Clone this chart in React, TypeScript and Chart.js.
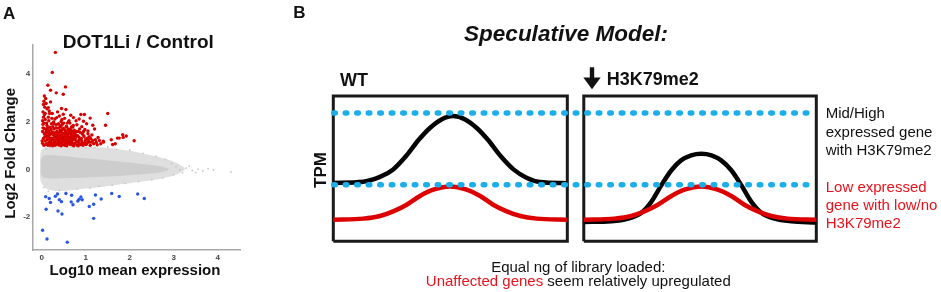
import React, { useEffect, useRef } from 'react';
import { Chart, registerables } from 'chart.js';

Chart.register(...registerables);

const FONT = '"Liberation Sans", Arial, Helvetica, sans-serif';
const RED_TEXT = '#e8121c';

// ---------------- Panel A : MA plot ----------------
const PANEL_A_LETTER = 'A';
const PANEL_A_TITLE = 'DOT1Li / Control';
const X_TITLE = 'Log10 mean expression';
const Y_TITLE = 'Log2 Fold Change';
const X_TICKS = [0, 1, 2, 3, 4];
const Y_TICKS = [-2, 0, 2, 4];

// significantly up-regulated genes [log10 mean, log2 FC]
const UP_GENES: [number, number][] = [
  [0.31, 4.92], [0.24, 4.08], [0.14, 3.54], [0.2, 3.33], [0.33, 3.22], [0.54, 3.47], [0.49, 3.16],
  [0.06, 3.09], [0.09, 2.98], [0.05, 2.87], [0.1, 2.77], [0.04, 2.73], [0.2, 2.84], [0.07, 2.62], [0.12, 2.55],
  [0.45, 2.56], [0.55, 2.52], [0.17, 2.46], [0.24, 2.35], [0.03, 2.42], [0.36, 2.42], [0.49, 2.32], [0.72, 2.18],
  [0.89, 2.31], [0.97, 2.31], [1.1, 2.16], [1.5, 2.35], [0.95, 2.03], [0.15, 2.2], [0.3, 2.12], [0.4, 2.25],
  [0.62, 2.05], [0.08, 2.1], [0.52, 2.15], [0.78, 2.05], [0.27, 2.0], [0.44, 2.02], [0.85, 2.12], [0.66, 2.28],
  [1.16, 1.86], [1.45, 1.86], [1.05, 1.62], [0.05, 1.95], [0.12, 1.85], [0.18, 1.78], [0.22, 1.92], [0.28, 1.7],
  [0.33, 1.88], [0.38, 1.75], [0.42, 1.66], [0.47, 1.9], [0.5, 1.72], [0.56, 1.82], [0.6, 1.68], [0.64, 1.95],
  [0.7, 1.78], [0.74, 1.65], [0.8, 1.88], [0.86, 1.7], [0.91, 1.8], [0.98, 1.68], [1.02, 1.92], [0.1, 1.66],
  [0.03, 1.75], [0.16, 1.62], [0.25, 1.8], [0.35, 1.62], [0.54, 1.6], [0.68, 1.62], [1.2, 1.7], [0.44, 1.8],
  [0.58, 1.95],
  [0.02, 1.1], [0.04, 1.3], [0.06, 1.5], [0.08, 1.2], [0.09, 1.05], [0.11, 1.4], [0.13, 1.25], [0.14, 1.55],
  [0.15, 1.12], [0.17, 1.35], [0.19, 1.02], [0.2, 1.48], [0.21, 1.2], [0.23, 1.58], [0.24, 1.08], [0.26, 1.32],
  [0.27, 1.45], [0.29, 1.15], [0.3, 1.02], [0.31, 1.55], [0.32, 1.25], [0.34, 1.38], [0.35, 1.1], [0.37, 1.5],
  [0.38, 1.2], [0.39, 1.03], [0.41, 1.33], [0.42, 1.58], [0.43, 1.12], [0.45, 1.42], [0.46, 1.22], [0.47, 1.05],
  [0.48, 1.52], [0.5, 1.3], [0.51, 1.15], [0.53, 1.45], [0.55, 1.02], [0.56, 1.25], [0.57, 1.55], [0.59, 1.1],
  [0.6, 1.38], [0.62, 1.2], [0.63, 1.5], [0.65, 1.05], [0.66, 1.3], [0.68, 1.15], [0.69, 1.45], [0.71, 1.02],
  [0.72, 1.25], [0.74, 1.52], [0.75, 1.1], [0.77, 1.35], [0.79, 1.18], [0.8, 1.03], [0.82, 1.42], [0.84, 1.22],
  [0.86, 1.08], [0.88, 1.55], [0.9, 1.3], [0.92, 1.12], [0.94, 1.02], [0.96, 1.4], [0.99, 1.2], [1.01, 1.05],
  [1.04, 1.32], [1.07, 1.15], [1.1, 1.02], [1.12, 1.15], [1.14, 1.45], [1.18, 1.08], [1.22, 1.25], [1.26, 1.04],
  [1.31, 1.22], [1.34, 1.08], [1.4, 1.19], [1.4, 1.15], [1.58, 1.25], [1.61, 1.05], [1.67, 1.08], [1.72, 1.32],
  [1.76, 1.32], [1.84, 1.46], [1.85, 1.35], [1.92, 1.41], [2.1, 1.21], [1.05, 1.5], [0.12, 1.08], [0.16, 1.45],
  [0.22, 1.32], [0.28, 1.22], [0.33, 1.05], [0.36, 1.3], [0.4, 1.45], [0.44, 1.0], [0.49, 1.18], [0.52, 1.4],
  [0.58, 1.28], [0.61, 1.08], [0.64, 1.22], [0.67, 1.55], [0.7, 1.35], [0.73, 1.0], [0.76, 1.25], [0.81, 1.15],
  [0.85, 1.35], [0.89, 1.05], [0.93, 1.48], [0.97, 1.1], [1.0, 1.28], [1.08, 1.38], [1.16, 1.22], [0.05, 1.02],
  [0.07, 1.38], [0.1, 1.58], [0.18, 1.15], [0.25, 1.0], [0.19, 1.28], [0.27, 1.1], [0.34, 1.48], [0.39, 1.15],
  [0.46, 1.35], [0.54, 1.1], [0.57, 1.0], [0.63, 1.35], [0.69, 1.08], [0.78, 1.45], [0.83, 1.0], [0.91, 1.2],
  [1.03, 1.12], [1.11, 1.3], [1.24, 1.14], [1.28, 1.35],
  [0.01, 1.2], [0.02, 1.6], [0.03, 1.9], [0.04, 2.2], [0.06, 1.72], [0.08, 2.35], [0.11, 1.95], [0.13, 1.72],
  [0.14, 1.02], [0.16, 2.05], [0.18, 1.52], [0.21, 1.68], [0.23, 2.15], [0.26, 1.55], [0.28, 1.92], [0.3, 1.38],
  [0.32, 1.75], [0.34, 2.18], [0.36, 1.55], [0.38, 1.92], [0.4, 1.12], [0.42, 1.85], [0.44, 1.6], [0.46, 2.1],
  [0.48, 1.28], [0.5, 1.95], [0.52, 1.02], [0.53, 1.65], [0.55, 1.38], [0.57, 1.78], [0.59, 1.45], [0.61, 2.0],
  [0.63, 1.12], [0.65, 1.7], [0.67, 1.4], [0.7, 1.55], [0.72, 1.85], [0.74, 1.32], [0.76, 1.6], [0.15, 2.6],
  [0.18, 2.35], [0.06, 2.3], [0.02, 2.05], [0.09, 1.48], [0.12, 1.32], [0.2, 1.1], [0.25, 1.25], [0.29, 1.5],
  [0.31, 1.15], [0.37, 1.4], [0.41, 1.25], [0.43, 1.45], [0.47, 1.68], [0.51, 1.5], [0.54, 1.2], [0.6, 1.15],
  [0.62, 1.62], [0.66, 1.18], [0.68, 1.8], [0.73, 1.42], [0.79, 1.6], [0.83, 1.6], [0.87, 1.25], [0.95, 1.6],
  [1.06, 1.22],
];

// significantly down-regulated genes
const DOWN_GENES: [number, number][] = [
  [0.09, -1.14], [0.17, -1.22], [0.2, -1.38], [0.31, -1.12], [0.36, -1.03], [0.4, -1.27], [0.45, -1.35],
  [0.55, -1.01], [0.68, -1.08], [0.67, -1.36], [0.71, -1.48], [0.82, -1.32], [0.85, -1.25], [0.89, -1.15],
  [0.92, -1.27], [1.08, -1.55], [1.18, -1.46], [1.22, -1.07], [1.35, -1.24], [1.59, -1.01], [1.76, -1.13],
  [2.18, -1.03], [2.33, -1.22], [0.1, -1.67], [0.37, -1.74], [0.46, -1.87], [1.18, -2.05], [0.02, -2.55],
  [0.12, -2.92], [0.58, -3.05],
];

// non-significant genes: outline of the light scatter halo and the dense core
const HALO_X = [-0.04, -0.01, 0.1, 0.3, 0.6, 1.0, 1.4, 1.8, 2.2, 2.6, 2.9, 3.1, 3.25];
const HALO_TOP = [0.35, 0.8, 0.95, 0.98, 0.98, 0.96, 0.92, 0.84, 0.72, 0.55, 0.4, 0.24, 0.06];
const HALO_BOTTOM = [-0.25, -0.55, -0.8, -0.9, -0.88, -0.8, -0.72, -0.62, -0.52, -0.42, -0.3, -0.18, -0.02];
const CORE_X = [-0.02, 0.02, 0.1, 0.3, 0.6, 1.0, 1.5, 2.0, 2.4, 2.7, 2.88];
const CORE_TOP = [0.3, 0.55, 0.6, 0.6, 0.55, 0.47, 0.38, 0.29, 0.21, 0.13, 0.04];
const CORE_BOTTOM = [-0.1, -0.3, -0.36, -0.38, -0.36, -0.33, -0.29, -0.24, -0.18, -0.11, -0.02];
const SPARSE_GENES: [number, number][] = [
  [3.14, -0.02], [3.28, 0.06], [3.42, -0.04], [3.55, 0.02], [3.66, -0.06], [3.78, 0.04], [3.9, -0.02],
  [4.3, -0.1], [3.05, 0.12], [3.2, -0.14], [3.35, 0.15], [3.5, -0.12],
  [0.2, 0.95], [0.45, 0.98], [0.7, 0.96], [0.9, 0.97], [1.2, 0.92], [1.5, 0.95], [1.7, 0.85], [2.0, 0.82],
  [2.3, 0.68], [2.6, 0.55], [2.8, 0.42], [0.15, -0.92], [0.4, -0.88], [0.55, -0.95], [0.8, -0.82],
  [1.1, -0.78], [1.3, -0.7], [1.6, -0.66], [1.9, -0.58], [2.2, -0.5], [2.5, -0.42], [2.75, -0.35],
  [0.05, -0.75], [0.1, 0.85], [0.35, -0.98], [1.0, 0.9], [2.95, 0.25], [3.0, -0.22],
];

// ---------------- Panel B : speculative model ----------------
const PANEL_B_LETTER = 'B';
const PANEL_B_TITLE = 'Speculative Model:';
const CONDITION_WT = 'WT';
const CONDITION_KD = 'H3K79me2';
const TPM_LABEL = 'TPM';
const HIGH_GENE_LABEL = ['Mid/High', 'expressed gene', 'with H3K79me2'];
const LOW_GENE_LABEL = ['Low expressed', 'gene with low/no', 'H3K79me2'];
const CAPTION_LINE1 = 'Equal ng of library loaded:';
const CAPTION_RED = 'Unaffected genes';
const CAPTION_BLACK = ' seem relatively upregulated';

const BOX_WT_X = [0, 48.45];
const BOX_KD_X = [51.86, 100];
const BOX_Y = [0, 10];
const GUIDE_X = [0.1, 99.3];
const TPM_HIGH_LEVEL = 8.83;
const TPM_LOW_LEVEL = 3.9;

const WT_HIGH_X = [0, 6.2, 9.67, 12.4, 15.2, 17.6, 20.0, 22.4, 24.8, 27.3, 29.7, 32.1, 34.5, 37.3, 40.0, 42.8, 48.45];
const WT_HIGH_Y = [4.02, 4.1, 4.43, 4.95, 5.92, 6.95, 7.8, 8.39, 8.62, 8.39, 7.8, 6.95, 5.92, 4.95, 4.38, 4.08, 4.0];
const WT_LOW_X = [0, 6.2, 9.67, 12.4, 15.2, 17.95, 20.7, 24.2, 27.6, 30.4, 33.1, 35.9, 38.7, 42.1, 48.45];
const WT_LOW_Y = [1.49, 1.56, 1.74, 2.06, 2.52, 3.12, 3.55, 3.78, 3.55, 3.12, 2.52, 2.06, 1.74, 1.56, 1.49];
const KD_HIGH_X = [51.86, 57.6, 61.0, 63.8, 65.8, 67.9, 70.0, 72.0, 74.1, 76.2, 78.3, 80.3, 82.4, 84.5, 86.6, 88.6, 91.4, 94.8, 100];
const KD_HIGH_Y = [1.33, 1.38, 1.56, 1.97, 2.7, 3.85, 4.89, 5.57, 5.92, 6.03, 5.92, 5.57, 4.89, 3.85, 2.7, 1.97, 1.56, 1.38, 1.3];
const KD_LOW_X = [51.86, 58.2, 61.7, 64.4, 67.2, 70.0, 72.7, 76.2, 79.6, 82.4, 85.1, 87.9, 90.7, 94.1, 100];
const KD_LOW_Y = [1.49, 1.56, 1.74, 2.06, 2.52, 3.12, 3.55, 3.78, 3.55, 3.12, 2.52, 2.06, 1.74, 1.56, 1.49];

const zip = (xs: number[], ys: number[]) => xs.map((x, i) => ({ x, y: ys[i] }));
const pts = (arr: [number, number][]) => arr.map(([x, y]) => ({ x, y }));
const rect = (xs: number[], ys: number[]) => [
  { x: xs[0], y: ys[0] }, { x: xs[1], y: ys[0] }, { x: xs[1], y: ys[1] }, { x: xs[0], y: ys[1] }, { x: xs[0], y: ys[0] },
];

const panelAText = {
  id: 'panelAText',
  afterDraw(chart: any) {
    const ctx = chart.ctx as CanvasRenderingContext2D;
    ctx.save();
    ctx.fillStyle = '#111';
    ctx.textBaseline = 'alphabetic';
    ctx.textAlign = 'left';
    ctx.font = `bold 17px ${FONT}`;
    ctx.fillText(PANEL_A_LETTER, 3, 19.3);
    ctx.textAlign = 'center';
    ctx.font = `bold 19px ${FONT}`;
    ctx.fillText(PANEL_A_TITLE, 138.3, 48.3);
    ctx.font = `bold 15px ${FONT}`;
    ctx.fillText(X_TITLE, 135, 275);
    ctx.translate(15, 153.3);
    ctx.rotate(-Math.PI / 2);
    ctx.fillText(Y_TITLE, 0, 0);
    ctx.restore();
  },
};

const panelBText = {
  id: 'panelBText',
  afterDraw(chart: any) {
    const ctx = chart.ctx as CanvasRenderingContext2D;
    ctx.save();
    ctx.fillStyle = '#111';
    ctx.textBaseline = 'alphabetic';
    ctx.textAlign = 'left';
    ctx.font = `bold 17px ${FONT}`;
    ctx.fillText(PANEL_B_LETTER, 43.3, 17.5);
    ctx.textAlign = 'center';
    ctx.font = `italic bold 22.5px ${FONT}`;
    ctx.fillText(PANEL_B_TITLE, 316, 40.5);
    ctx.textAlign = 'left';
    ctx.font = `bold 18px ${FONT}`;
    ctx.fillText(CONDITION_WT, 90, 86);
    ctx.fillText(CONDITION_KD, 356.7, 85);
    // down arrow
    ctx.fillRect(339.8, 67.3, 4.4, 11);
    ctx.beginPath();
    ctx.moveTo(333.3, 77.5);
    ctx.lineTo(350.7, 77.5);
    ctx.lineTo(342, 89.3);
    ctx.closePath();
    ctx.fill();
    // gene labels
    ctx.font = `15px ${FONT}`;
    const hy = [118.3, 136.7, 155];
    HIGH_GENE_LABEL.forEach((t, i) => ctx.fillText(t, 575.7, hy[i]));
    ctx.fillStyle = RED_TEXT;
    const ly = [191.7, 210, 228.3];
    LOW_GENE_LABEL.forEach((t, i) => ctx.fillText(t, 575.7, ly[i]));
    // caption
    ctx.fillStyle = '#111';
    ctx.textAlign = 'center';
    ctx.fillText(CAPTION_LINE1, 328.3, 271.7);
    ctx.textAlign = 'left';
    const w1 = ctx.measureText(CAPTION_RED).width;
    const w2 = ctx.measureText(CAPTION_BLACK).width;
    const x0 = 328.3 - (w1 + w2) / 2;
    ctx.fillStyle = RED_TEXT;
    ctx.fillText(CAPTION_RED, x0, 285.5);
    ctx.fillStyle = '#111';
    ctx.fillText(CAPTION_BLACK, x0 + w1, 285.5);
    // TPM
    ctx.font = `bold 17px ${FONT}`;
    ctx.textAlign = 'center';
    ctx.translate(76, 170);
    ctx.rotate(-Math.PI / 2);
    ctx.fillText(TPM_LABEL, 0, 0);
    ctx.restore();
  },
};

export default function App() {
  const aRef = useRef<HTMLCanvasElement>(null);
  const bRef = useRef<HTMLCanvasElement>(null);

  useEffect(() => {
    const area = (data: any, color: string, fill: any, order: number) => ({
      type: 'line' as const,
      data,
      borderColor: 'rgba(0,0,0,0)',
      borderWidth: 0,
      backgroundColor: color,
      pointRadius: 0,
      tension: 0.35,
      fill,
      order,
    });
    const tickFont = { family: FONT, size: 8, weight: 'bold' as const };

    const chartA = new Chart(aRef.current!, {
      type: 'scatter',
      data: {
        datasets: [
          area(zip(HALO_X, HALO_TOP), '#dfdfdf', false, 10),
          area(zip(HALO_X, HALO_BOTTOM), '#dfdfdf', '-1', 10),
          area(zip(CORE_X, CORE_TOP), '#cdcdcd', false, 9),
          area(zip(CORE_X, CORE_BOTTOM), '#cdcdcd', '-1', 9),
          { type: 'scatter', data: pts(SPARSE_GENES), pointRadius: 0.9, pointBorderWidth: 0, backgroundColor: '#c8c8c8', order: 5 },
          { type: 'scatter', data: pts(DOWN_GENES), pointRadius: 1.7, pointBorderWidth: 0, backgroundColor: '#2b56e0', order: 2 },
          { type: 'scatter', data: pts(UP_GENES), pointRadius: 1.7, pointBorderWidth: 0, backgroundColor: '#d60000', order: 1 },
        ] as any,
      },
      options: {
        animation: false,
        responsive: false,
        maintainAspectRatio: false,
        devicePixelRatio: 1,
        layout: { padding: { left: 0, top: 45, right: 9.3, bottom: 0 } },
        plugins: { legend: { display: false }, tooltip: { enabled: false }, title: { display: false } },
        scales: {
          x: {
            type: 'linear',
            min: -0.214,
            max: 4.52,
            grid: { display: false, drawTicks: false },
            border: { display: true, color: '#a8a8a8', width: 1.5 },
            ticks: { font: tickFont, color: '#444', padding: 3 },
            afterBuildTicks: (s: any) => { s.ticks = X_TICKS.map((v) => ({ value: v })); },
            afterFit: (s: any) => { s.height = 42; },
          },
          y: {
            type: 'linear',
            min: -3.38,
            max: 5.23,
            grid: { display: false, drawTicks: false },
            border: { display: true, color: '#a8a8a8', width: 1.5 },
            ticks: { font: tickFont, color: '#444', padding: 2 },
            afterBuildTicks: (s: any) => { s.ticks = Y_TICKS.map((v) => ({ value: v })); },
            afterFit: (s: any) => { s.width = 32.3; },
          },
        },
      },
      plugins: [panelAText],
    });

    const curve = (data: any, color: string, order: number) => ({
      data,
      borderColor: color,
      borderWidth: 4.5,
      pointRadius: 0,
      cubicInterpolationMode: 'monotone' as const,
      fill: false,
      clip: false as any,
      order,
    });
    const guide = (level: number) => ({
      data: GUIDE_X.map((x) => ({ x, y: level })),
      borderColor: '#1aaeea',
      borderWidth: 5.5,
      borderDash: [1.5, 10],
      borderCapStyle: 'round' as const,
      pointRadius: 0,
      fill: false,
      clip: false as any,
      order: 0,
    });
    const box = (xs: number[]) => ({
      data: rect(xs, BOX_Y),
      borderColor: '#1a1a1a',
      borderWidth: 3,
      borderJoinStyle: 'miter' as const,
      pointRadius: 0,
      tension: 0,
      fill: false,
      clip: false as any,
      order: 3,
    });

    const chartB = new Chart(bRef.current!, {
      type: 'line',
      data: {
        datasets: [
          box(BOX_WT_X),
          box(BOX_KD_X),
          curve(zip(WT_HIGH_X, WT_HIGH_Y), '#050505', 2),
          curve(zip(KD_HIGH_X, KD_HIGH_Y), '#050505', 2),
          curve(zip(WT_LOW_X, WT_LOW_Y), '#dd0000', 1),
          curve(zip(KD_LOW_X, KD_LOW_Y), '#dd0000', 1),
          guide(TPM_HIGH_LEVEL),
          guide(TPM_LOW_LEVEL),
        ] as any,
      },
      options: {
        animation: false,
        responsive: false,
        maintainAspectRatio: false,
        devicePixelRatio: 1,
        layout: { padding: { left: 83.3, top: 96, right: 124.7, bottom: 50.7 } },
        plugins: { legend: { display: false }, tooltip: { enabled: false }, title: { display: false } },
        scales: {
          x: { type: 'linear', min: 0, max: 100, display: false },
          y: { type: 'linear', min: 0, max: 10, display: false },
        },
      },
      plugins: [panelBText],
    });

    return () => {
      chartA.destroy();
      chartB.destroy();
    };
  }, []);

  return (
    <div style={{ position: 'absolute', left: 0, top: 0, width: 941, height: 292, background: '#fff', overflow: 'hidden' }}>
      <canvas ref={aRef} width={250} height={292} style={{ position: 'absolute', left: 0, top: 0, width: 250, height: 292 }} />
      <canvas ref={bRef} width={691} height={292} style={{ position: 'absolute', left: 250, top: 0, width: 691, height: 292 }} />
    </div>
  );
}
